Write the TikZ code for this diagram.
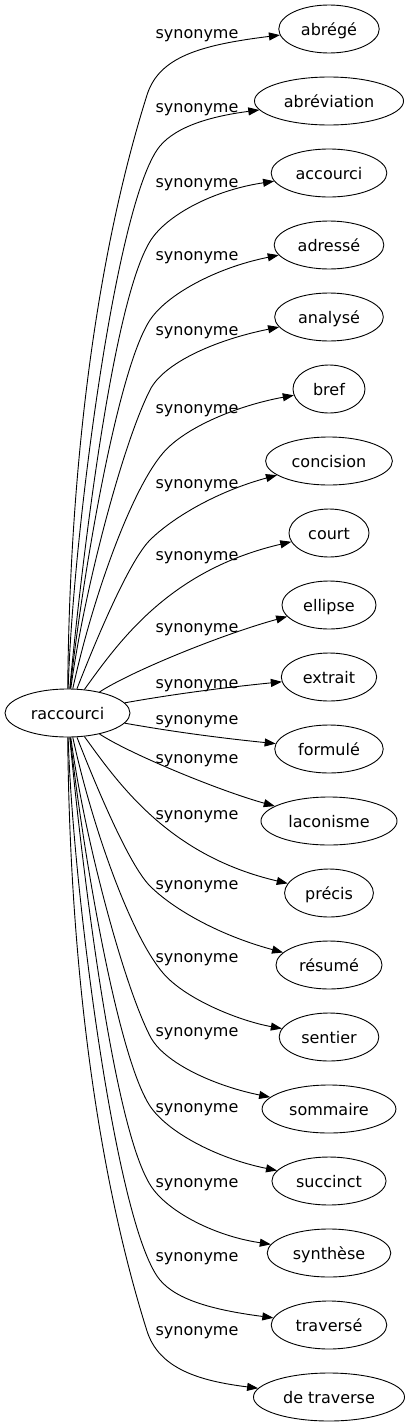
\documentclass[tikz,border=0pt]{standalone}
\usepackage{fontspec}
\setmainfont{DejaVu Sans}
\usetikzlibrary{arrows.meta,shapes.geometric}
\begin{document}
\begin{tikzpicture}[x=1pt,y=-1pt,
  every node/.style={font=\fontsize{16pt}{19pt}\selectfont},
  term/.style={ellipse,draw,line width=0.9pt,minimum width=72pt,minimum height=48pt,
    inner xsep=7.5pt,inner ysep=2pt,text height=12pt,text depth=0pt},
  rel/.style={anchor=base,inner sep=0pt},
  link/.style={line width=0.9pt,-{Triangle[length=11pt,width=8pt]}}]
\useasboundingbox (0,0) rectangle (408,1427);
\node[term] (src) at (67.5,713) {raccourci};
\node[term] (t0) at (329,29) {abrégé};
\node[term] (t1) at (329,101) {abréviation};
\node[term] (t2) at (329,173) {accourci};
\node[term] (t3) at (329,245) {adressé};
\node[term] (t4) at (329,317) {analysé};
\node[term] (t5) at (329,389) {bref};
\node[term] (t6) at (329,461) {concision};
\node[term] (t7) at (329,533) {court};
\node[term] (t8) at (329,605) {ellipse};
\node[term] (t9) at (329,677) {extrait};
\node[term] (t10) at (329,749) {formulé};
\node[term] (t11) at (329,821) {laconisme};
\node[term] (t12) at (329,893) {précis};
\node[term] (t13) at (329,965) {résumé};
\node[term] (t14) at (329,1037) {sentier};
\node[term] (t15) at (329,1109) {sommaire};
\node[term] (t16) at (329,1181) {succinct};
\node[term] (t17) at (329,1253) {synthèse};
\node[term] (t18) at (329,1325) {traversé};
\node[term] (t19) at (329,1397) {de traverse};
% labels
\foreach \i/\y in {0/32,1/106,2/181,3/254,4/329,5/407,6/482,7/554,8/626,9/682,10/718,11/757,12/813,13/883,14/956,15/1030,16/1106,17/1181,18/1255,19/1329}
  \node[rel] (l\i) at (197,\y+6) {synonyme};
% upper edges
\draw[link] (src) .. controls (70,439) and (102,237.5) .. (147,95) .. controls (159,57) and (200,45) .. (t0);
\draw[link] (src) .. controls (72,550) and (113,216) .. (157,150) .. controls (171,129) and (205,117) .. (t1);
\draw[link] (src) .. controls (78,600) and (111,293) .. (153,237) .. controls (171,213) and (215,190) .. (t2);
\draw[link] (src) .. controls (82,580) and (117,370) .. (150,320) .. controls (166.5,295) and (215,268) .. (t3);
\draw[link] (src) .. controls (84,590) and (123,443) .. (150,390) .. controls (163.5,363) and (215,340) .. (t4);
\draw[link] (src) .. controls (92,600) and (130.5,491) .. (163,453) .. controls (185.75,426.4) and (240,405) .. (t5);
\draw[link] (src) .. controls (96,640) and (129,561) .. (150,540) .. controls (171,519) and (215,492) .. (t6);
\draw[link] (src) .. controls (120,640) and (170,570) .. (t7);
\draw[link] (src) .. controls (130,672) and (220,635) .. (t8);
\draw[link] (src) .. controls (180,693) and (230,687) .. (t9);
% lower edges
\draw[link] (src) .. controls (180,733) and (230,739) .. (t10);
\draw[link] (src) .. controls (130,754) and (220,791) .. (t11);
\draw[link] (src) .. controls (120,786) and (170,856) .. (t12);
\draw[link] (src) .. controls (96,786) and (129,865) .. (150,886) .. controls (171,907) and (215,934) .. (t13);
\draw[link] (src) .. controls (92,826) and (130.5,935) .. (163,973) .. controls (185.75,999.6) and (240,1021) .. (t14);
\draw[link] (src) .. controls (84,836) and (123,983) .. (150,1036) .. controls (163.5,1063) and (215,1086) .. (t15);
\draw[link] (src) .. controls (82,846) and (117,1056) .. (150,1106) .. controls (166.5,1131) and (215,1158) .. (t16);
\draw[link] (src) .. controls (78,826) and (111,1133) .. (153,1189) .. controls (171,1213) and (215,1236) .. (t17);
\draw[link] (src) .. controls (72,876) and (113,1210) .. (157,1276) .. controls (171,1297) and (205,1309) .. (t18);
\draw[link] (src) .. controls (70,987) and (102,1188.5) .. (147,1331) .. controls (159,1369) and (200,1381) .. (t19);
\end{tikzpicture}
\end{document}
